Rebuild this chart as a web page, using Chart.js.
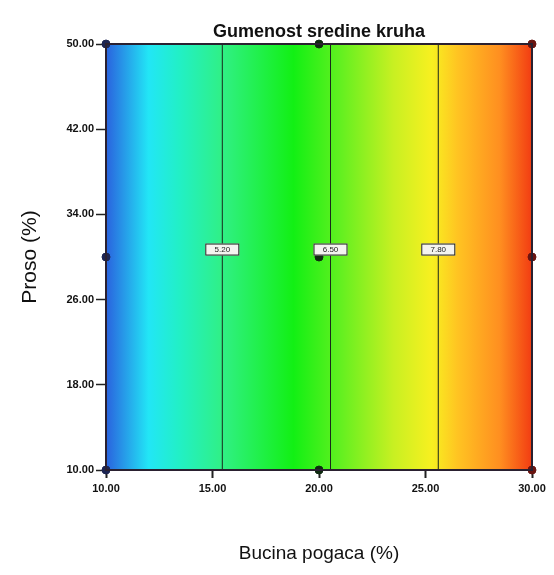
<!DOCTYPE html>
<html>
<head>
<meta charset="utf-8">
<script src="https://cdn.jsdelivr.net/npm/chart.js@4"></script>
<style>
  html, body { margin: 0; padding: 0; background: #fff; }
  #wrap { width: 554px; height: 575px; }
</style>
</head>
<body>
<div id="wrap"><canvas id="chart" width="554" height="575"></canvas></div>
<script>
// axis ticks
var xTicks = [10, 15, 20, 25, 30];
var yTicks = [10, 18, 26, 34, 42, 50];

// design points (Bucina pogaca %, Proso %)
var designX = [10, 10, 10, 20, 20, 20, 30, 30, 30];
var designY = [10, 30, 50, 10, 30, 50, 10, 30, 50];

// contour lines: x position, label
var contourX = [15.46, 20.54, 25.6];
var contourLabels = ['5.20', '6.50', '7.80'];
var contourLabelY = 30.7;

// colour ramp along x (value -> colour)
var rampX = [10, 12, 13.5, 15.5, 18.8, 21, 23.5, 25.3, 26.5, 28.5, 30];
var rampColors = ['#2a62de', '#22e6f6', '#22f0c4', '#30f084', '#12f014', '#62f020',
                  '#c8f022', '#f8f020', '#ffc422', '#ff8e20', '#f23c12'];

var TICK_FONT = { family: '"Liberation Sans Narrow", "Liberation Sans", Arial', size: 11, weight: 'bold' };

function pointColor(x) {
    if (x < 15) return '#1c2452';
    if (x > 25) return '#6a1410';
    return '#0e2a10';
}

var contourSets = contourX.map(function(cx) {
    return {
        type: 'line',
        data: [{ x: cx, y: 10 }, { x: cx, y: 50 }],
        borderColor: '#1a2a1a',
        borderWidth: 1,
        pointRadius: 0,
        fill: false
    };
});

var pts = designX.map(function(x, i) { return { x: x, y: designY[i] }; });

// gradient behind the plot
var bgPlugin = {
    id: 'bg',
    beforeDatasetsDraw: function(chart) {
        var ctx = chart.ctx, a = chart.chartArea, xs = chart.scales.x;
        var g = ctx.createLinearGradient(a.left, 0, a.right, 0);
        var w = a.right - a.left;
        rampX.forEach(function(v, i) {
            var p = (xs.getPixelForValue(v) - a.left) / w;
            g.addColorStop(Math.min(1, Math.max(0, p)), rampColors[i]);
        });
        ctx.save();
        ctx.fillStyle = g;
        ctx.fillRect(a.left, a.top, w, a.bottom - a.top);
        ctx.restore();
    },
    afterDatasetsDraw: function(chart) {
        var ctx = chart.ctx, a = chart.chartArea, xs = chart.scales.x, ys = chart.scales.y;
        ctx.save();
        // frame
        ctx.strokeStyle = '#2a2030';
        ctx.lineWidth = 2;
        ctx.strokeRect(a.left, a.top, a.right - a.left, a.bottom - a.top);
        // contour labels
        ctx.font = '8px "Liberation Sans", Arial';
        ctx.textAlign = 'center';
        ctx.textBaseline = 'middle';
        contourX.forEach(function(cx, i) {
            var px = xs.getPixelForValue(cx), py = ys.getPixelForValue(contourLabelY);
            ctx.fillStyle = '#f4f4f0';
            ctx.fillRect(px - 17, py - 6, 34, 12);
            ctx.strokeStyle = '#222';
            ctx.lineWidth = 1;
            ctx.strokeRect(px - 17 + 0.5, py - 6 + 0.5, 33, 11);
            ctx.fillStyle = '#222';
            ctx.fillText(contourLabels[i], px, py);
        });
        // title
        ctx.font = 'bold 18px "Liberation Sans", Arial';
        ctx.fillStyle = '#111';
        ctx.textBaseline = 'alphabetic';
        ctx.fillText('Gumenost sredine kruha', (a.left + a.right) / 2, 37);
        ctx.restore();
    }
};

var chart = new Chart(document.getElementById('chart'), {
    type: 'scatter',
    data: {
        datasets: contourSets.concat([{
            type: 'scatter',
            data: pts,
            pointRadius: 4,
            pointBackgroundColor: designX.map(pointColor),
            pointBorderColor: designX.map(pointColor),
            clip: false
        }])
    },
    options: {
        responsive: false,
        animation: false,
        events: [],
        layout: { padding: { top: 44, right: 22, left: 0, bottom: 0 } },
        plugins: { legend: { display: false }, tooltip: { enabled: false }, title: { display: false } },
        scales: {
            x: {
                type: 'linear',
                min: 10, max: 30,
                afterBuildTicks: function(s) { s.ticks = xTicks.map(function(v) { return { value: v }; }); },
                afterFit: function(s) { s.height = 105; },
                border: { display: false },
                grid: { drawOnChartArea: false, tickLength: 8, color: '#222', tickWidth: 2 },
                ticks: {
                    color: '#111', font: TICK_FONT, padding: 4, maxRotation: 0,
                    callback: function(v) { return Number(v).toFixed(2); }
                },
                title: {
                    display: true, text: 'Bucina pogaca (%)', color: '#111',
                    font: { family: '"Liberation Sans", Arial', size: 19 },
                    padding: { top: 0, bottom: 10 }
                }
            },
            y: {
                type: 'linear',
                min: 10, max: 50,
                afterBuildTicks: function(s) { s.ticks = yTicks.map(function(v) { return { value: v }; }); },
                afterFit: function(s) { s.width = 106; },
                border: { display: false },
                grid: { drawOnChartArea: false, tickLength: 10, color: '#222', tickWidth: 1.5 },
                ticks: {
                    color: '#111', font: TICK_FONT, padding: 2,
                    callback: function(v) { return Number(v).toFixed(2); }
                },
                title: {
                    display: true, text: 'Proso (%)', color: '#111',
                    font: { family: '"Liberation Sans", Arial', size: 21 },
                    padding: { top: 18, bottom: 0 }
                }
            }
        }
    },
    plugins: [bgPlugin]
});
</script>
</body>
</html>
